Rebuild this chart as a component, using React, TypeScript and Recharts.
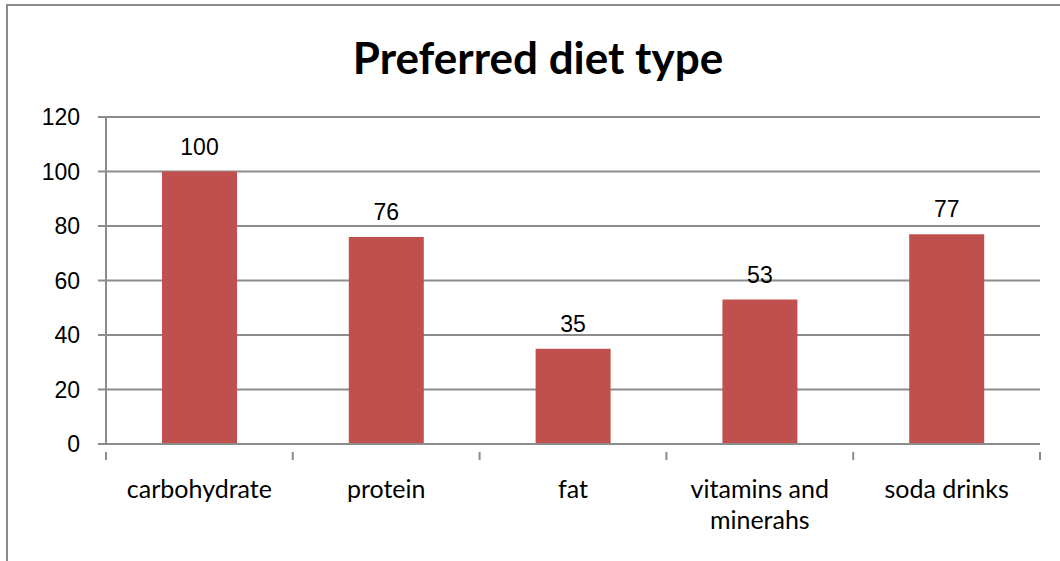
import React from 'react';
import {
  BarChart,
  Bar,
  XAxis,
  YAxis,
  CartesianGrid,
  LabelList,
} from 'recharts';

const categories = ['carbohydrate', 'protein', 'fat', 'vitamins and minerahs', 'soda drinks'];
const counts = [100, 76, 35, 53, 77];
const yTicks = [0, 20, 40, 60, 80, 100, 120];
// category labels as they wrap under the axis
const tickLines = [['carbohydrate'], ['protein'], ['fat'], ['vitamins and', 'minerahs'], ['soda drinks']];

const data = categories.map((name, i) => ({ name, value: counts[i] }));

const GRAY = '#8c8c8c';
const PLOT_LEFT = 106;
const PLOT_RIGHT = 1040;
const BAND = (PLOT_RIGHT - PLOT_LEFT) / categories.length;

const CategoryTick = ({ x, y, index }: any) => {
  const left = x - BAND / 2;
  const lines = tickLines[index] || [];
  return (
    <g>
      <line x1={left} y1={y} x2={left} y2={y + 8} stroke={GRAY} strokeWidth={2} />
      {index === categories.length - 1 && (
        <line x1={left + BAND} y1={y} x2={left + BAND} y2={y + 8} stroke={GRAY} strokeWidth={2} />
      )}
      <text
        x={x}
        y={y + 46}
        textAnchor="middle"
        fontFamily="Lato, sans-serif"
        fontSize={25}
        fill="#000"
      >
        {lines.map((line: string, i: number) => (
          <tspan key={i} x={x} dy={i === 0 ? 0 : 31}>
            {line}
          </tspan>
        ))}
      </text>
    </g>
  );
};

export default function App() {
  return (
    <div style={{ position: 'absolute', left: 0, top: 0, width: 1060, height: 561, background: '#fff' }}>
      <div
        style={{
          position: 'absolute',
          left: 6,
          top: 4,
          width: 1060,
          height: 561,
          borderLeft: `2px solid ${GRAY}`,
          borderTop: `2px solid ${GRAY}`,
        }}
      />
      <div
        style={{
          position: 'absolute',
          left: 0,
          top: 27,
          width: 1076,
          textAlign: 'center',
          fontFamily: 'Lato, sans-serif',
          fontWeight: 'bold',
          fontSize: 44,
          lineHeight: '60px',
        }}
      >
        Preferred diet type
      </div>
      <div style={{ position: 'absolute', left: 0, top: 0 }}>
        <BarChart
          width={1060}
          height={561}
          data={data}
          margin={{ top: 117, right: 1060 - PLOT_RIGHT, left: 0, bottom: 0 }}
          barCategoryGap="20%"
        >
          <CartesianGrid vertical={false} stroke={GRAY} strokeWidth={2} />
          <XAxis
            dataKey="name"
            interval={0}
            height={117}
            axisLine={{ stroke: GRAY, strokeWidth: 2 }}
            tickLine={false}
            tick={<CategoryTick />}
          />
          <YAxis
            width={PLOT_LEFT}
            domain={[0, 120]}
            ticks={yTicks}
            axisLine={{ stroke: GRAY, strokeWidth: 2 }}
            tickLine={{ stroke: GRAY, strokeWidth: 2 }}
            tickSize={8}
            tickMargin={18}
            tick={{ fill: '#000', fontSize: 23, fontFamily: '"Liberation Sans", Arial, sans-serif' }}
          />
          <Bar dataKey="value" fill="#c0504d" barSize={75} isAnimationActive={false}>
            <LabelList
              dataKey="value"
              position="top"
              offset={17}
              fill="#000"
              fontSize={23}
              fontFamily='"Liberation Sans", Arial, sans-serif'
            />
          </Bar>
        </BarChart>
      </div>
    </div>
  );
}
